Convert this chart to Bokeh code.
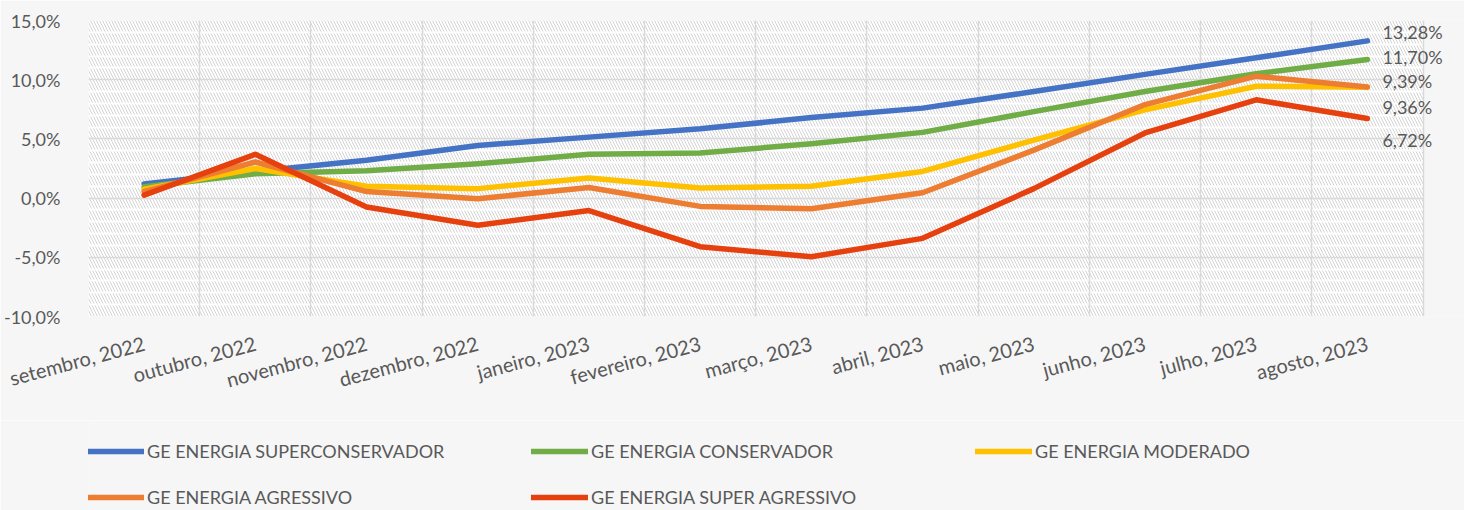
from bokeh.plotting import figure
from bokeh.layouts import column
from bokeh.models import (Range1d, FixedTicker, BoxAnnotation, Legend,
                          LegendItem, LabelSet, ColumnDataSource)
from bokeh.core.properties import value
from bokeh.embed import file_html
from bokeh.resources import INLINE

# ---------------- data ----------------
months = ["setembro, 2022", "outubro, 2022", "novembro, 2022", "dezembro, 2022",
          "janeiro, 2023", "fevereiro, 2023", "março, 2023", "abril, 2023",
          "maio, 2023", "junho, 2023", "julho, 2023", "agosto, 2023"]

superconservador = [1.2, 2.25, 3.2, 4.45, 5.15, 5.85, 6.8, 7.6, 9.0, 10.45, 11.85, 13.28]
conservador = [0.95, 2.05, 2.3, 2.9, 3.7, 3.8, 4.6, 5.55, 7.3, 9.0, 10.5, 11.70]
moderado = [0.75, 2.5, 1.0, 0.8, 1.7, 0.85, 1.0, 2.25, 4.9, 7.45, 9.45, 9.36]
agressivo = [0.55, 3.05, 0.55, -0.05, 0.9, -0.7, -0.9, 0.45, 4.05, 7.9, 10.3, 9.39]
super_agressivo = [0.25, 3.7, -0.75, -2.3, -1.05, -4.1, -4.95, -3.4, 0.8, 5.5, 8.3, 6.72]

series_names = ["GE ENERGIA SUPERCONSERVADOR", "GE ENERGIA CONSERVADOR",
                "GE ENERGIA MODERADO", "GE ENERGIA AGRESSIVO", "GE ENERGIA SUPER AGRESSIVO"]

y_tick_values = [-10, -5, 0, 5, 10, 15]
y_tick_labels = ["-10,0%", "-5,0%", "0,0%", "5,0%", "10,0%", "15,0%"]

# ---------------- style ----------------
colors = ["#4472C4", "#70AD47", "#FFC000", "#ED7D31", "#E5400E"]
end_label_dy = [9, 2.5, -20, 6, -21]   # screen offsets of the end labels
FONT = "Lato"
TEXT = "#595959"
FS = "18px"
PAGE = "#f6f6f6"
LW = 5.5

all_series = [superconservador, conservador, moderado, agressivo, super_agressivo]
n = len(months)
x_pos = [i + 0.5 for i in range(n)]          # category centres
x_end = n + 0.4                               # room on the right for end labels

p = figure(x_range=Range1d(0, x_end), y_range=Range1d(-10, 15),
           width=1464, height=420,
           frame_width=1379, frame_height=296,
           min_border_left=85, min_border_right=0, min_border_top=20, min_border_bottom=104,
           output_backend="svg", toolbar_location=None,
           background_fill_color=PAGE, border_fill_color=PAGE)
p.outline_line_color = None

# hatched plot area
p.add_layout(BoxAnnotation(left=0, right=n, fill_color="white", fill_alpha=1,
                           line_color=None, hatch_pattern="\\",
                           hatch_color="#d3d3d3", hatch_scale=6, hatch_weight=1,
                           level="image"))

# grids
p.xgrid.ticker = FixedTicker(ticks=list(range(n + 1)))
p.xgrid.grid_line_color = "#d9d9d9"
p.xgrid.grid_line_width = 1.5
minor = [v for v in range(-10, 16) if v % 5 != 0]
p.ygrid.ticker = FixedTicker(ticks=y_tick_values, minor_ticks=minor)
p.ygrid.grid_line_color = "#d9d9d9"
p.ygrid.grid_line_width = 1.5
p.ygrid.minor_grid_line_color = "white"
p.ygrid.minor_grid_line_width = 2
p.ygrid.minor_grid_line_alpha = 0.9
if "cross_bounds" in p.ygrid.properties():
    p.ygrid.cross_bounds = (0, n)
# draw vertical grid lines after horizontal ones so they stay continuous
xg, yg = p.xgrid[0], p.ygrid[0]
p.center = [yg, xg] + [r for r in p.center if r is not xg and r is not yg]

# axes
p.yaxis.ticker = FixedTicker(ticks=y_tick_values)
p.yaxis.major_label_overrides = dict(zip(y_tick_values, y_tick_labels))
p.xaxis.ticker = FixedTicker(ticks=x_pos)
p.xaxis.major_label_overrides = dict(zip(x_pos, months))
for ax in (p.xaxis, p.yaxis):
    ax.axis_line_color = None
    ax.major_tick_line_color = None
    ax.minor_tick_line_color = None
    ax.major_label_text_font = FONT
    ax.major_label_text_color = TEXT
p.yaxis.major_label_text_font_size = FS
p.xaxis.major_label_text_font_size = "20px"
p.yaxis.major_label_standoff = 22
p.xaxis.major_label_orientation = 0.26
p.xaxis.major_label_standoff = 20

# lines
for name, vals, col in zip(series_names, all_series, colors):
    p.line(x=x_pos, y=vals, line_width=LW, line_color=col,
           line_cap="round", line_join="round")

# end labels
last_vals = [s[-1] for s in all_series]
src = ColumnDataSource(dict(
    x=[x_pos[-1]] * len(last_vals),
    y=last_vals,
    text=[("%.2f" % v).replace(".", ",") + "%" for v in last_vals],
    dy=end_label_dy,
))
p.add_layout(LabelSet(x="x", y="y", text="text", source=src, x_offset=15, y_offset="dy",
                      text_font=value(FONT), text_font_size=FS, text_color=TEXT,
                      text_baseline="middle", text_align="left"))

# legend in its own strip below the chart
pl = figure(width=1464, height=90, x_range=Range1d(0, 1), y_range=Range1d(0, 1),
            min_border_left=85, min_border_right=0, min_border_top=0, min_border_bottom=0,
            x_axis_type=None, y_axis_type=None,
            output_backend="svg", toolbar_location=None,
            background_fill_color=PAGE, border_fill_color=PAGE)
pl.outline_line_color = None
pl.grid.visible = False
items = []
for name, col in zip(series_names, colors):
    # legend-key renderer only (a single NaN point draws nothing)
    r = pl.line(x=[float("nan")], y=[float("nan")], line_width=LW, line_color=col,
                line_cap="round")
    items.append(LegendItem(label=name, renderers=[r]))
legend = Legend(items=items, ncols=3, orientation="horizontal", location=(-1, 2),
                label_text_font=FONT, label_text_font_size=FS, label_text_color=TEXT,
                glyph_width=57, glyph_height=16, label_standoff=3, label_width=360,
                label_height=16, spacing=24, padding=0, margin=0,
                background_fill_alpha=0, border_line_color=None)
pl.add_layout(legend, "center")

layout = column(p, pl, spacing=0)
open("out.html", "w").write(file_html(layout, INLINE))
